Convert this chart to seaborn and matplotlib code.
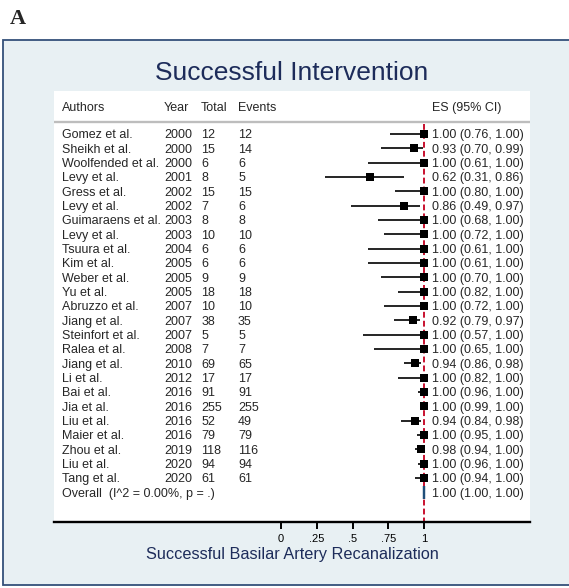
import matplotlib
matplotlib.use("Agg")
import matplotlib.pyplot as plt
import matplotlib.transforms as mtransforms
from matplotlib.patches import Rectangle
import seaborn as sns
import pandas as pd

# ---------------- data ----------------
authors = ["Gomez et al.", "Sheikh et al.", "Woolfended et al.", "Levy et al.",
           "Gress et al.", "Levy et al.", "Guimaraens et al.", "Levy et al.",
           "Tsuura et al.", "Kim et al.", "Weber et al.", "Yu et al.",
           "Abruzzo et al.", "Jiang et al.", "Steinfort et al.", "Ralea et al.",
           "Jiang et al.", "Li et al.", "Bai et al.", "Jia et al.", "Liu et al.",
           "Maier et al.", "Zhou et al.", "Liu et al.", "Tang et al."]
years = [2000, 2000, 2000, 2001, 2002, 2002, 2003, 2003, 2004, 2005, 2005, 2005,
         2007, 2007, 2007, 2008, 2010, 2012, 2016, 2016, 2016, 2016, 2019, 2020, 2020]
totals = [12, 15, 6, 8, 15, 7, 8, 10, 6, 6, 9, 18, 10, 38, 5, 7, 69, 17, 91, 255,
          52, 79, 118, 94, 61]
events = [12, 14, 6, 5, 15, 6, 8, 10, 6, 6, 9, 18, 10, 35, 5, 7, 65, 17, 91, 255,
          49, 79, 116, 94, 61]
es = [1.00, 0.93, 1.00, 0.62, 1.00, 0.86, 1.00, 1.00, 1.00, 1.00, 1.00, 1.00,
      1.00, 0.92, 1.00, 1.00, 0.94, 1.00, 1.00, 1.00, 0.94, 1.00, 0.98, 1.00, 1.00]
ci_low = [0.76, 0.70, 0.61, 0.31, 0.80, 0.49, 0.68, 0.72, 0.61, 0.61, 0.70, 0.82,
          0.72, 0.79, 0.57, 0.65, 0.86, 0.82, 0.96, 0.99, 0.84, 0.95, 0.94, 0.96, 0.94]
ci_high = [1.00, 0.99, 1.00, 0.86, 1.00, 0.97, 1.00, 1.00, 1.00, 1.00, 1.00, 1.00,
           1.00, 0.97, 1.00, 1.00, 0.98, 1.00, 1.00, 1.00, 0.98, 1.00, 1.00, 1.00, 1.00]
overall_label = "Overall  (I^2 = 0.00%, p = .)"
overall_es, overall_lo, overall_hi = 1.00, 1.00, 1.00
x_ticks = [0, 0.25, 0.5, 0.75, 1]
x_tick_labels = ["0", ".25", ".5", ".75", "1"]
title = "Successful Intervention"
xlabel = "Successful Basilar Artery Recanalization"
headers = ["Authors", "Year", "Total", "Events", "ES (95% CI)"]

# ---------------- style ----------------
sns.set_style("white")
plt.rcParams['font.family'] = ['Liberation Sans', 'DejaVu Sans']

W, H = 569, 588
fig = plt.figure(figsize=(W / 100, H / 100), dpi=100)
fig.patch.set_facecolor("white")

navy = "#1d2c5a"
fig.add_artist(Rectangle((3 / W, 1 - 585 / H), 1.2, (585 - 40) / H,
                         transform=fig.transFigure, facecolor="#E8F0F3",
                         edgecolor="#34507A", lw=1.3, zorder=0))

ax = fig.add_axes([54 / W, 1 - 522 / H, 476 / W, 431 / H])
ax.set_facecolor("white")

n = len(authors)
df = pd.DataFrame({"row": list(range(n)), "es": es, "lo": ci_low, "hi": ci_high})

# CI lines
ax.hlines(df["row"], df["lo"], df["hi"], color="black", lw=1.2, zorder=3)
# boxes
sns.scatterplot(data=df, x="es", y="row", marker="s", s=26, color="black",
                edgecolor="black", linewidth=0, ax=ax, legend=False, zorder=4)
# overall diamond (degenerate)
r_ov = n
h = 0.45
ax.fill([overall_lo, overall_es, overall_hi, overall_es],
        [r_ov, r_ov - h, r_ov, r_ov + h], facecolor="#1f4e79",
        edgecolor="#1f4e79", lw=1.6, zorder=4)

# reference line
ax.vlines(1, -0.7, 27.2, colors="#C8102E", lw=1.4, linestyles=(0, (3, 1.6)), zorder=2)
# header separator
ax.axhline(-0.84, color="#BDBDBD", lw=1.7, zorder=1)

ax.set_xlim((54 - 281) / 143, (530 - 281) / 143)
ax.set_ylim(27.08, -3.0)
ax.set_xlabel("")
ax.set_ylabel("")
ax.set_yticks([])
ax.set_xticks(x_ticks, x_tick_labels)
ax.tick_params(axis="x", which="major", bottom=True, direction="out", length=5,
               width=1.4, labelsize=8, pad=4, colors="black")
for s in ["top", "left", "right"]:
    ax.spines[s].set_visible(False)
ax.spines["bottom"].set_color("black")
ax.spines["bottom"].set_linewidth(1.7)

tr = mtransforms.blended_transform_factory(ax.transAxes, ax.transData)
cols = [0.0168, 0.231, 0.309, 0.3866, 0.794]
fs = 9
va = "center_baseline"
for x, t in zip(cols, headers):
    ax.text(x, -1.95, t, transform=tr, fontsize=fs, va=va, ha="left")
for i in range(n):
    ax.text(cols[0], i, authors[i], transform=tr, fontsize=fs, va=va)
    ax.text(cols[1], i, str(years[i]), transform=tr, fontsize=fs, va=va)
    ax.text(cols[2], i, str(totals[i]), transform=tr, fontsize=fs, va=va)
    ax.text(cols[3], i, str(events[i]), transform=tr, fontsize=fs, va=va)
    ax.text(cols[4], i, f"{es[i]:.2f} ({ci_low[i]:.2f}, {ci_high[i]:.2f})",
            transform=tr, fontsize=fs, va=va)
ax.text(cols[0], r_ov, overall_label, transform=tr, fontsize=fs, va=va)
ax.text(cols[4], r_ov, f"{overall_es:.2f} ({overall_lo:.2f}, {overall_hi:.2f})",
        transform=tr, fontsize=fs, va=va)

fig.text(292 / W, 1 - 73 / H, title, color=navy, fontsize=19,
         ha="center", va="center")
fig.text(292 / W, 1 - 555 / H, xlabel, color=navy, fontsize=11.7,
         ha="center", va="center")
fig.text(10 / W, 1 - 19 / H, "A", family=["Liberation Serif", "DejaVu Serif"],
         fontweight="bold", fontsize=16, ha="left", va="center")

fig.savefig("out.png", dpi=100)
